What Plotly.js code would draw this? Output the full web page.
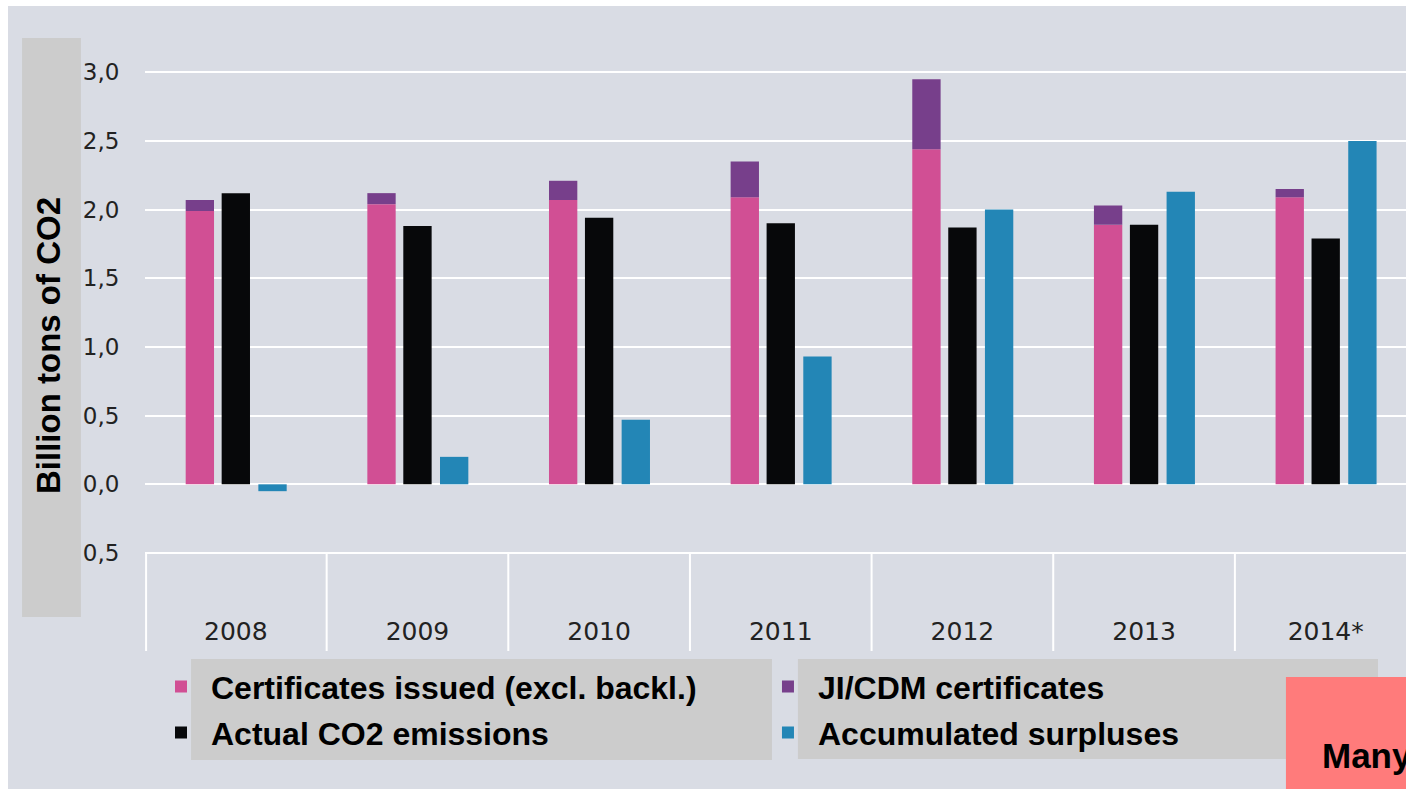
<!DOCTYPE html>
<html>
<head>
<meta charset="utf-8">
<script src="https://cdn.plot.ly/plotly-3.0.1.min.js"></script>
<style>
  html, body { margin: 0; padding: 0; background: #ffffff; width: 1406px; height: 789px; overflow: hidden; }
  #chart { position: absolute; left: 8px; top: 6px; width: 1398px; height: 783px; }
</style>
</head>
<body>
<div id="chart"></div>
<script>
// ---- data (billion tons of CO2) ----
const years = ['2008', '2009', '2010', '2011', '2012', '2013', '2014*'];
const certificatesIssued = [1.99, 2.04, 2.07, 2.09, 2.44, 1.89, 2.09];
const jiCdmCertificates = [0.08, 0.08, 0.14, 0.26, 0.51, 0.14, 0.06];
const actualEmissions = [2.12, 1.88, 1.94, 1.90, 1.87, 1.89, 1.79];
const accumulatedSurpluses = [-0.05, 0.20, 0.47, 0.93, 2.00, 2.13, 2.50];
const yTickValues = [-0.5, 0, 0.5, 1, 1.5, 2, 2.5, 3];
const yTickLabels = ['0,5', '0,0', '0,5', '1,0', '1,5', '2,0', '2,5', '3,0'];
const seriesNames = ['Certificates issued (excl. backl.)', 'JI/CDM certificates', 'Actual CO2 emissions', 'Accumulated surpluses'];

// ---- styling ----
const BG = '#d9dce4';
const PINK = '#d14f94';
const PURPLE = '#773f8b';
const BLACK = '#07080a';
const BLUE = '#2386b6';
const BAR_W = 0.156;
const Y_MIN = -1.2136, Y_MAX = 3.235;

const bar = (name, y, color, offset, legend, group, extra) => Object.assign({
  type: 'bar', name: name, x: years, y: y,
  width: BAR_W, offset: offset,
  marker: { color: color, line: { width: 0 } },
  legend: legend, legendgroup: group, hoverinfo: 'x+y+name'
}, extra || {});

const traces = [
  bar(seriesNames[0], certificatesIssued, PINK, -0.276, 'legend', 'g1'),
  bar(seriesNames[1], jiCdmCertificates, PURPLE, -0.276, 'legend2', 'g2', { base: certificatesIssued }),
  bar(seriesNames[2], actualEmissions, BLACK, -0.078, 'legend', 'g3'),
  bar(seriesNames[3], accumulatedSurpluses, BLUE, 0.124, 'legend2', 'g4')
];

// vertical separators between the year columns, below the -0.5 line
const separators = years.map((_, i) => ({
  type: 'line', xref: 'x', yref: 'y',
  x0: i - 0.5 + (i === 0 ? 0.006 : 0), x1: i - 0.5 + (i === 0 ? 0.006 : 0),
  y0: -0.5, y1: Y_MIN,
  line: { color: '#ffffff', width: 2 }, layer: 'below'
}));

const legendFont = { family: 'Liberation Sans, Arial, sans-serif', size: 32, color: '#000000', weight: 'bold' };
const legendBase = {
  orientation: 'v', xref: 'paper', yref: 'paper',
  xanchor: 'left', yanchor: 'top',
  bgcolor: 'rgba(0,0,0,0)', borderwidth: 0,
  font: legendFont, itemwidth: 50, tracegroupgap: 1.5,
  itemclick: false, itemdoubleclick: false
};

const layout = {
  width: 1398, height: 783, autosize: false,
  paper_bgcolor: BG, plot_bgcolor: BG,
  margin: { l: 137, r: 0, t: 34, b: 138, pad: 0 },
  barmode: 'overlay',
  showlegend: true,
  xaxis: {
    type: 'category', range: [-0.5, 6.442], fixedrange: true,
    showgrid: false, zeroline: false, showline: false, ticks: '',
    ticklabelposition: 'inside', ticklabelstandoff: 3,
    tickfont: { family: 'DejaVu Sans, sans-serif', size: 25, color: '#222222' }
  },
  yaxis: {
    range: [Y_MIN, Y_MAX], fixedrange: true,
    tickvals: yTickValues, ticktext: yTickLabels,
    showgrid: true, gridcolor: '#ffffff', gridwidth: 2,
    zeroline: false, showline: false,
    ticks: 'outside', ticklen: 20, tickcolor: 'rgba(0,0,0,0)',
    tickfont: { family: 'DejaVu Sans, sans-serif', size: 23, color: '#222222' },
    automargin: true,
    title: {
      text: 'Billion tons of CO2', standoff: 12,
      font: { family: 'Liberation Sans, Arial, sans-serif', size: 33, color: '#000000', weight: 'bold' }
    }
  },
  legend: Object.assign({}, legendBase, { x: 0.00476, y: -0.0134 }),
  legend2: Object.assign({}, legendBase, { x: 0.4861, y: -0.0134 }),
  shapes: [
    // grey panel behind the y-axis title
    { type: 'rect', xref: 'paper', yref: 'paper', x0: -0.0975, x1: -0.0508, y0: 0.0557, y1: 1.0033,
      fillcolor: '#cccccc', line: { width: 0 }, layer: 'below' },
    // grey panels behind the legend texts
    { type: 'rect', xref: 'paper', yref: 'paper', x0: 0.0365, x1: 0.4972, y0: -0.1784, y1: -0.0131,
      fillcolor: '#cccccc', line: { width: 0 }, layer: 'below' },
    { type: 'rect', xref: 'paper', yref: 'paper', x0: 0.5178, x1: 0.9778, y0: -0.1768, y1: -0.0131,
      fillcolor: '#cccccc', line: { width: 0 }, layer: 'below' },
    // red overlay box at bottom right
    { type: 'rect', xref: 'paper', yref: 'paper', x0: 0.9048, x1: 1.0, y0: -0.2259, y1: -0.0426,
      fillcolor: '#ff7b7b', line: { width: 0 }, layer: 'above' }
  ].concat(separators),
  annotations: [
    { text: 'Many', xref: 'paper', yref: 'paper', x: 0.9318, y: -0.1718,
      xanchor: 'left', yanchor: 'middle', showarrow: false,
      font: { family: 'Liberation Sans, Arial, sans-serif', size: 35, color: '#000000', weight: 'bold' } }
  ]
};

Plotly.newPlot('chart', traces, layout, { displayModeBar: false, responsive: false });
</script>
</body>
</html>
